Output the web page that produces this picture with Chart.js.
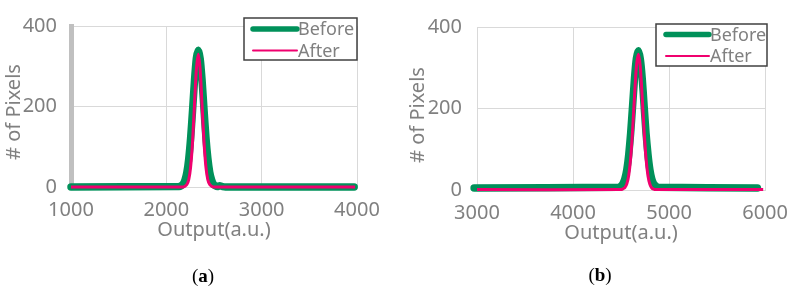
<!DOCTYPE html>
<html>
<head>
<meta charset="utf-8">
<script src="https://cdn.jsdelivr.net/npm/chart.js@4.4.0/dist/chart.umd.min.js"></script>
<style>
  body { margin: 0; background: #fff; width: 799px; height: 291px; position: relative; overflow: hidden; }
  .panel { position: absolute; top: 0; height: 291px; }
  #wrapA { left: 0; width: 400px; }
  #wrapB { left: 400px; width: 399px; }
  .cap { position: absolute; font-family: "Liberation Serif", serif; font-size: 19px; color: #000; transform: translate(-50%, -50%); }
</style>
</head>
<body>
<div class="panel" id="wrapA"><canvas id="chartA" width="400" height="291"></canvas></div>
<div class="panel" id="wrapB"><canvas id="chartB" width="399" height="291"></canvas></div>
<div class="cap" style="left:203px; top:276px;">(<b>a</b>)</div>
<div class="cap" style="left:600px; top:275px;">(<b>b</b>)</div>

<script>
// panel (a)
const beforeAX = [1000, 2135, 2155, 2175, 2195, 2215, 2235, 2255, 2275, 2295, 2315, 2335, 2355, 2375, 2395, 2415, 2435, 2455, 2475, 2495, 2515, 2535, 2560, 2590, 2620, 3970];
const beforeAY = [0, 1, 3, 7, 17, 36, 70, 122, 190, 263, 320, 340, 319, 265, 193, 124, 72, 37, 18, 7, 3, 1, 3, 1, 0, 0];
const afterAX = [1000, 2175, 2195, 2215, 2235, 2255, 2275, 2295, 2315, 2335, 2355, 2375, 2395, 2415, 2435, 2455, 2475, 2495, 3980];
const afterAY = [0, 0, 2, 6, 18, 50, 112, 204, 292, 330, 291, 202, 112, 50, 18, 6, 2, 0, 0];

// panel (b)
const beforeBX = [2970, 4480, 4500, 4520, 4540, 4560, 4580, 4600, 4620, 4640, 4660, 4680, 4700, 4720, 4740, 4760, 4780, 4800, 4820, 4840, 4860, 4880, 5920];
const beforeBY = [5, 7, 10, 16, 28, 50, 87, 140, 206, 274, 323, 342, 322, 275, 207, 139, 88, 50, 27, 15, 10, 7, 5];
const afterBX = [3000, 4500, 4520, 4540, 4560, 4580, 4600, 4620, 4640, 4660, 4680, 4700, 4720, 4740, 4760, 4780, 4800, 4820, 4840, 4860, 5980];
const afterBY = [1, 1, 3, 6, 15, 36, 78, 146, 230, 304, 333, 303, 228, 144, 77, 35, 14, 5, 2, 1, 1];

const seriesNames = ['Before', 'After'];
const yTicks = [0, 200, 400];
const xTicksA = [1000, 2000, 3000, 4000];
const xTicksB = [3000, 4000, 5000, 6000];
const xTitle = 'Output(a.u.)';
const yTitle = '# of Pixels';

const GREEN = '#00915a';
const PINK = '#f0006e';
const GRAY = '#808080';
const FONT = '"Noto Sans", sans-serif';

function pts(xs, ys) {
  return xs.map((x, i) => ({ x: x, y: ys[i] }));
}

// boxed legend like the Excel one
const boxLegend = {
  id: 'boxLegend',
  afterDatasetsDraw(chart, args, opts) {
    const ctx = chart.ctx;
    ctx.save();
    ctx.fillStyle = '#fff';
    ctx.fillRect(opts.x, opts.y, opts.w, opts.h);
    ctx.strokeStyle = '#404040';
    ctx.lineWidth = 1.5;
    ctx.strokeRect(opts.x, opts.y, opts.w, opts.h);
    chart.data.datasets.forEach((ds, i) => {
      const rowY = opts.y + opts.firstRow + i * opts.rowGap;
      ctx.strokeStyle = ds.borderColor;
      ctx.lineWidth = opts.lineWidths[i];
      ctx.lineCap = 'round';
      ctx.beginPath();
      ctx.moveTo(opts.x + opts.lineStart, rowY);
      ctx.lineTo(opts.x + opts.lineStart + opts.lineLen, rowY);
      ctx.stroke();
      ctx.fillStyle = GRAY;
      ctx.font = '18px ' + FONT;
      ctx.textBaseline = 'middle';
      ctx.textAlign = 'left';
      ctx.fillText(ds.label, opts.x + opts.lineStart + opts.lineLen + 1, rowY + 1);
    });
    ctx.restore();
  }
};

// rotated y title, placed a little below the axis middle as in the figure
const sideTitle = {
  id: 'sideTitle',
  afterDraw(chart, args, opts) {
    const ctx = chart.ctx;
    ctx.save();
    ctx.translate(opts.x, opts.y);
    ctx.rotate(-Math.PI / 2);
    ctx.fillStyle = GRAY;
    ctx.font = '20px ' + FONT;
    ctx.textAlign = 'center';
    ctx.textBaseline = 'middle';
    ctx.fillText(opts.text, 0, 0);
    ctx.restore();
  }
};

function makeChart(id, cfg) {
  return new Chart(document.getElementById(id), {
    type: 'line',
    data: {
      datasets: [
        { label: seriesNames[0], data: cfg.before, borderColor: GREEN, borderWidth: 7.5, borderCapStyle: 'round', borderJoinStyle: 'round', pointRadius: 0, tension: 0.2, clip: false, order: 2 },
        { label: seriesNames[1], data: cfg.after, borderColor: PINK, borderWidth: 3, pointRadius: 0, tension: 0.2, clip: false, order: 1 }
      ]
    },
    options: {
      responsive: false,
      animation: false,
      events: [],
      layout: { padding: cfg.padding },
      plugins: {
        legend: { display: false },
        tooltip: { enabled: false },
        boxLegend: cfg.legend,
        sideTitle: { text: yTitle, x: cfg.yTitleX, y: cfg.yTitleY }
      },
      scales: {
        x: {
          type: 'linear',
          min: cfg.xTicks[0],
          max: cfg.xTicks[cfg.xTicks.length - 1],
          afterBuildTicks: s => { s.ticks = cfg.xTicks.map(v => ({ value: v })); },
          afterFit: s => { s.height = 60; },
          ticks: { color: GRAY, font: { family: FONT, size: 20 }, padding: 11, maxRotation: 0, callback: v => String(v) },
          grid: { color: '#d9d9d9', lineWidth: 1, drawTicks: false },
          border: { display: true, color: '#d9d9d9' },
          title: { display: true, text: xTitle, color: GRAY, font: { family: FONT, size: 20 }, padding: { top: 0, bottom: 5 } }
        },
        y: {
          min: 0,
          max: 400,
          afterBuildTicks: s => { s.ticks = yTicks.map(v => ({ value: v })); },
          afterFit: s => { s.width = cfg.yWidth; },
          ticks: { color: GRAY, font: { family: FONT, size: 20 }, padding: cfg.yPad, callback: v => String(v) },
          grid: { color: '#d9d9d9', lineWidth: 1, drawTicks: false },
          border: cfg.yBorder
        }
      }
    },
    plugins: [boxLegend, sideTitle]
  });
}

makeChart('chartA', {
  before: pts(beforeAX, beforeAY),
  after: pts(afterAX, afterAY),
  xTicks: xTicksA,
  padding: { left: 0, right: 43, top: 15, bottom: 44 },
  yWidth: 71,
  yPad: 14,
  yBorder: { display: true, color: '#c0c0c0', width: 5 },
  yTitleX: 14,
  yTitleY: 112,
  legend: { x: 244, y: 18, w: 113, h: 42, firstRow: 11, rowGap: 21.5, lineStart: 9, lineLen: 44, lineWidths: [5.5, 2] }
});

makeChart('chartB', {
  before: pts(beforeBX, beforeBY),
  after: pts(afterBX, afterBY),
  xTicks: xTicksB,
  padding: { left: 0, right: 29, top: 16, bottom: 41 },
  yWidth: 77,
  yPad: 15,
  yBorder: { display: false },
  yTitleX: 18,
  yTitleY: 115,
  legend: { x: 256, y: 24, w: 111, h: 42, firstRow: 10.5, rowGap: 21.5, lineStart: 10, lineLen: 43, lineWidths: [5.5, 2] }
});
</script>
</body>
</html>
